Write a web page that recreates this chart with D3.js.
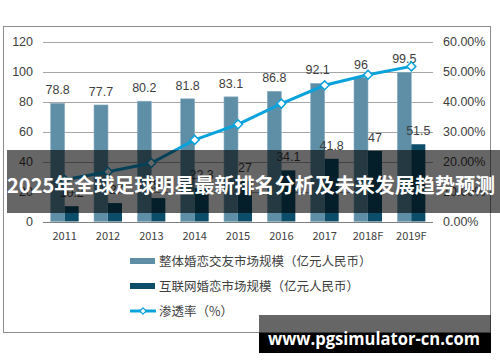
<!DOCTYPE html>
<html><head><meta charset="utf-8">
<script src="https://cdn.jsdelivr.net/npm/d3@7"></script>
<style>body{margin:0;background:#fff}svg{display:block}</style>
</head><body>
<script>
const categories = ["2011","2012","2013","2014","2015","2016","2017","2018F","2019F"];
const totalMarket = [78.8,77.7,80.2,81.8,83.1,86.8,92.1,96,99.5];
const onlineMarket = [10.2,12.3,15.6,22.3,27,34.1,41.8,47,51.5];
const penetration = [13.9,16.6,19.5,27.2,32.4,39.3,45.4,48.9,51.7];
const leftTicks = [0,20,40,60,80,100,120];
const rightTicks = [0,10,20,30,40,50,60];
const legendLabels = ["整体婚恋交友市场规模（亿元人民币）","互联网婚恋市场规模（亿元人民币）","渗透率（%）"];
const title = "2025年全球足球明星最新排名分析及未来发展趋势预测";
const watermark = "www.pgsimulator-cn.com";

const W=500,H=362;
const svg=d3.select("body").append("svg").attr("width",W).attr("height",H);
const font="'Noto Sans CJK SC','Noto Sans',sans-serif";
const numFont="'Liberation Sans',Arial,sans-serif";
const txt="#404040";

svg.append("rect").attr("x",3.5).attr("y",26.5).attr("width",487).attr("height",306)
  .attr("fill","#fff").attr("stroke","#8c8c8c");

const x=d3.scaleBand().domain(categories).range([43,433]);
const y=d3.scaleLinear().domain([0,120]).range([221.5,41.5]);
const yr=d3.scaleLinear().domain([0,60]).range([221.5,41.5]);

// grid
svg.append("g").selectAll("line").data(leftTicks).join("line")
  .attr("x1",43).attr("x2",433).attr("y1",d=>Math.round(y(d))+0.5).attr("y2",d=>Math.round(y(d))+0.5)
  .attr("stroke",d=>d===0?"#7f7f7f":"#a6a6a6").attr("stroke-width",1);

// left axis
const la=svg.append("g").attr("transform","translate(33,0)").call(d3.axisLeft(y).tickValues(leftTicks).tickSize(0).tickPadding(0));
la.select(".domain").remove();
la.selectAll("text").attr("font-family",numFont).attr("font-size",12.5).attr("fill",txt);
// right axis
const ra=svg.append("g").attr("transform","translate(443,0)").call(d3.axisRight(yr).tickValues(rightTicks).tickSize(0).tickPadding(0).tickFormat(d=>d.toFixed(2)+"%"));
ra.select(".domain").remove();
ra.selectAll("text").attr("font-family",numFont).attr("font-size",12.5).attr("fill",txt);
// x axis
const xa=svg.append("g").attr("transform","translate(0,228)").call(d3.axisBottom(x).tickSize(0).tickPadding(4));
xa.select(".domain").remove();
xa.selectAll("text").attr("font-family",font).attr("font-size",11).attr("fill",txt);

const bw=14;
const cx=d=>x(d)+x.bandwidth()/2;
svg.append("g").selectAll("rect").data(categories).join("rect")
  .attr("x",d=>cx(d)-bw).attr("width",bw).attr("y",(d,i)=>y(totalMarket[i])).attr("height",(d,i)=>y(0)-y(totalMarket[i]))
  .attr("fill","#5e8fa6").attr("stroke","#8db3c5").attr("stroke-width",0.6);
svg.append("g").selectAll("rect").data(categories).join("rect")
  .attr("x",d=>cx(d)).attr("width",bw).attr("y",(d,i)=>y(onlineMarket[i])).attr("height",(d,i)=>y(0)-y(onlineMarket[i]))
  .attr("fill","#0c4e69");

// labels
svg.append("g").selectAll("text").data(categories).join("text")
  .attr("x",d=>cx(d)-bw/2).attr("y",(d,i)=>y(totalMarket[i])-9).attr("text-anchor","middle")
  .attr("font-family",numFont).attr("font-size",12.5).attr("fill",txt).text((d,i)=>totalMarket[i]);
svg.append("g").selectAll("text").data(categories).join("text")
  .attr("x",d=>cx(d)+bw/2).attr("y",(d,i)=>y(onlineMarket[i])-9).attr("text-anchor","middle")
  .attr("font-family",numFont).attr("font-size",12.5).attr("fill",txt).text((d,i)=>onlineMarket[i]);

// line
const line=d3.line().x((d,i)=>cx(categories[i])).y(d=>yr(d));
svg.append("path").datum(penetration).attr("d",line).attr("fill","none").attr("stroke","#0aa2dc").attr("stroke-width",3);
svg.append("g").selectAll("path").data(penetration).join("path")
  .attr("transform",(d,i)=>`translate(${cx(categories[i])},${yr(d)}) rotate(45)`)
  .attr("d",d3.symbol().type(d3.symbolSquare).size(40)())
  .attr("fill","#fff").attr("stroke","#0aa2dc").attr("stroke-width",1.5);

// legend
const lg=svg.append("g");
const ly=[261,286,311];
lg.append("rect").attr("x",130).attr("y",ly[0]-3).attr("width",25).attr("height",6).attr("fill","#5e8fa6");
lg.append("rect").attr("x",130).attr("y",ly[1]-3).attr("width",25).attr("height",6).attr("fill","#0c4e69");
lg.append("line").attr("x1",130).attr("x2",156).attr("y1",ly[2]).attr("y2",ly[2]).attr("stroke","#0aa2dc").attr("stroke-width",3);
lg.append("path").attr("transform",`translate(143,${ly[2]}) rotate(45)`).attr("d",d3.symbol().type(d3.symbolSquare).size(20)())
  .attr("fill","#fff").attr("stroke","#0aa2dc").attr("stroke-width",1.2);
lg.selectAll("text").data(legendLabels).join("text").attr("x",159).attr("y",(d,i)=>ly[i]+4.5)
  .attr("font-family",font).attr("font-size",12.5).attr("fill",txt).text(d=>d);

// title overlay
svg.append("rect").attr("x",7).attr("y",150).attr("width",493).attr("height",63).attr("fill","rgba(0,0,0,0.6)");
svg.append("text").attr("x",251).attr("y",193).attr("text-anchor","middle").attr("font-family",font)
  .attr("font-weight","bold").attr("font-size",20.5).attr("fill","#fff").attr("textLength",488).attr("lengthAdjust","spacingAndGlyphs").text(title);

// watermark
svg.append("rect").attr("x",259).attr("y",315).attr("width",232).attr("height",18).attr("fill","rgba(0,0,0,0.6)");
svg.append("rect").attr("x",259).attr("y",333).attr("width",232).attr("height",20).attr("fill","#000");
svg.append("text").attr("x",374).attr("y",345).attr("text-anchor","middle").attr("font-family","'Open Sans','DejaVu Sans',sans-serif")
  .attr("font-weight","bold").attr("font-size",18).attr("fill","#fff").attr("textLength",212).attr("lengthAdjust","spacingAndGlyphs").text(watermark);
</script>
</body></html>
